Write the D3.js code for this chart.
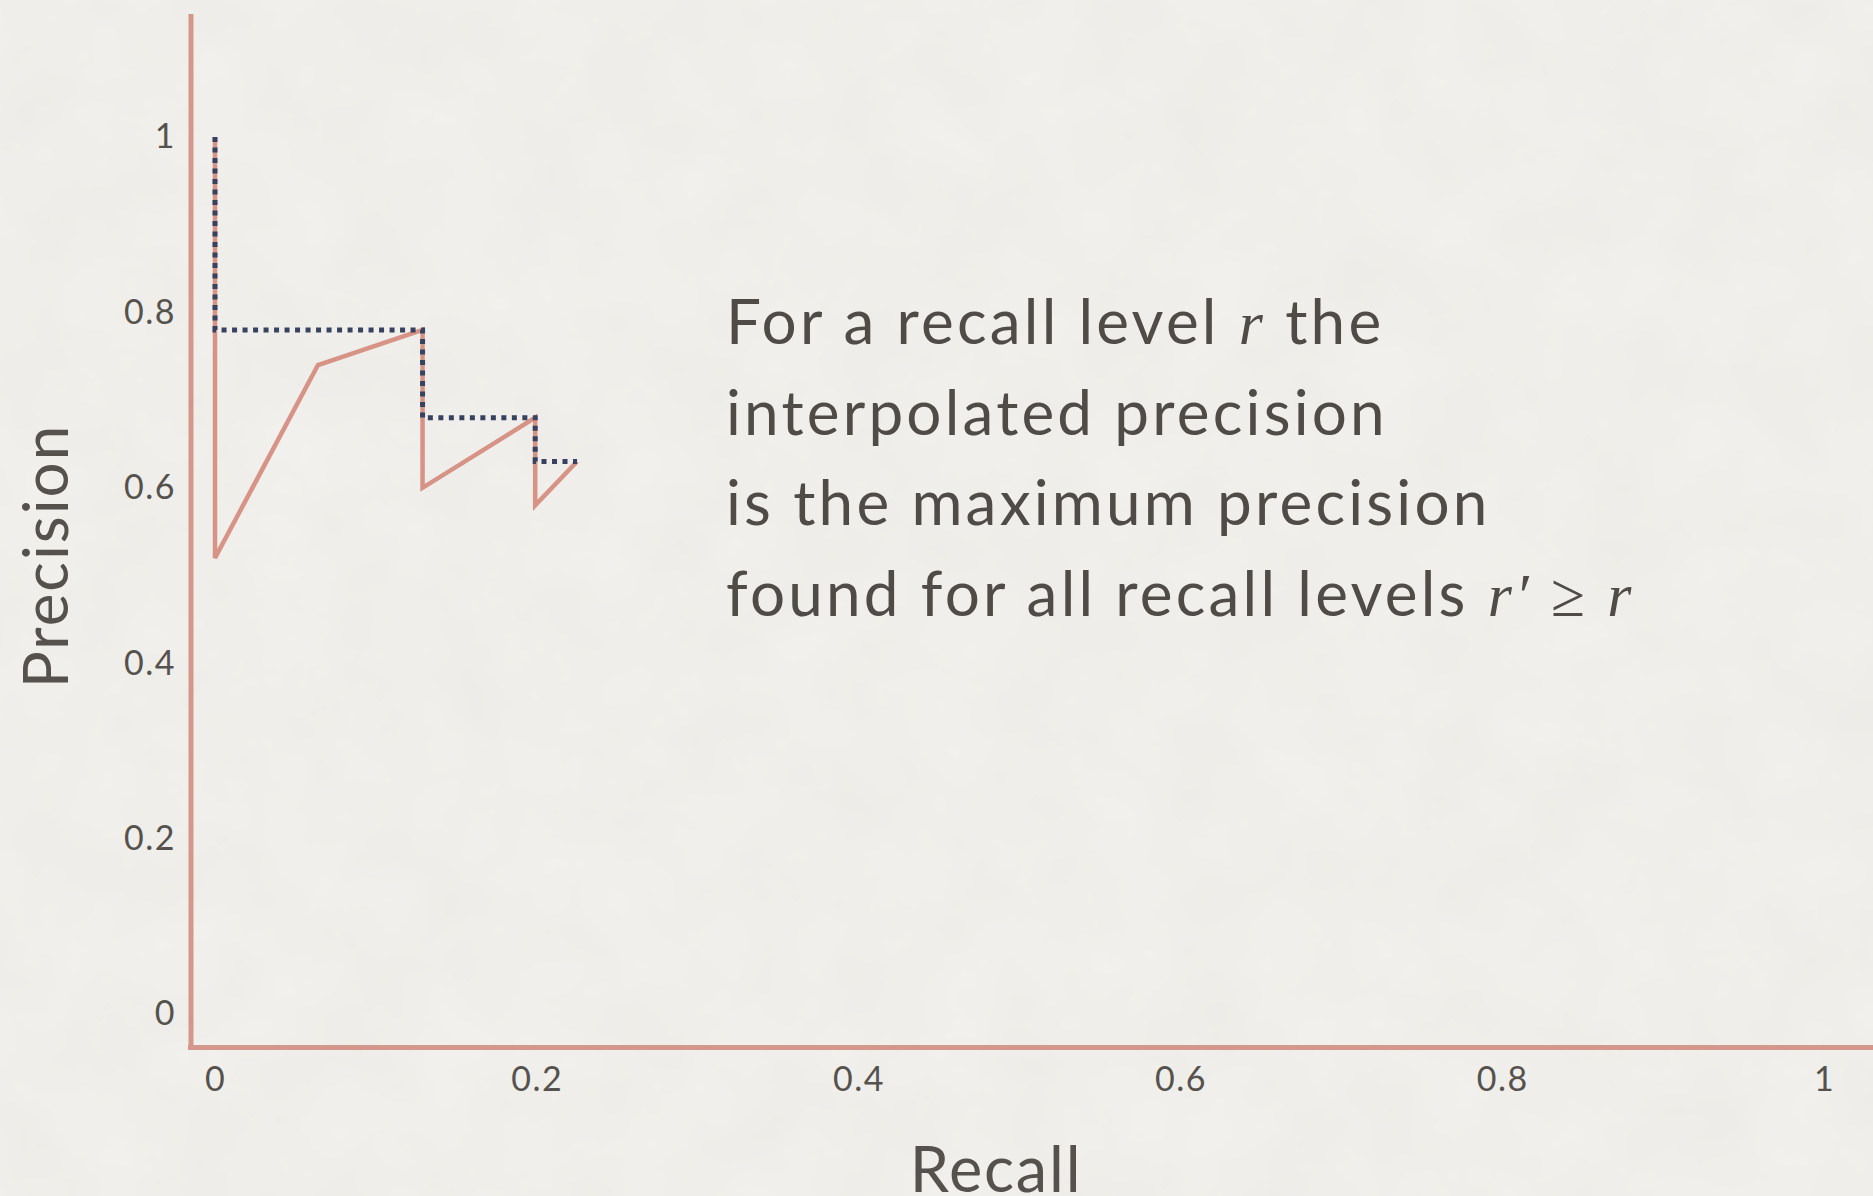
<!DOCTYPE html>
<html>
<head>
<meta charset="utf-8">
<script src="https://cdn.jsdelivr.net/npm/d3@7"></script>
<style>
  html, body { margin: 0; padding: 0; background: #f2f1ed; }
  svg { display: block; }
</style>
</head>
<body>
<div id="pr-chart"></div>
<script>
// data
var recall = [0, 0, 0.064, 0.129, 0.129, 0.199, 0.199, 0.225];
var precision = [1, 0.52, 0.74, 0.78, 0.60, 0.68, 0.58, 0.63];

var interpRecall = [0, 0, 0.129, 0.129, 0.199, 0.199, 0.225];
var interpPrecision = [1, 0.78, 0.78, 0.68, 0.68, 0.63, 0.63];

var xTicks = [0, 0.2, 0.4, 0.6, 0.8, 1];
var yTicks = [0, 0.2, 0.4, 0.6, 0.8, 1];

var noteLines = [
  ["For a recall level ", {i: "r"}, " the"],
  ["interpolated precision"],
  ["is the maximum precision"],
  ["found for all recall levels ", {i: "r\u2032"}, " ", {s: "\u2265"}, " ", {i: "r"}]
];

var W = 1873, H = 1196;

// set the ranges
var x = d3.scaleLinear().domain([0, 1]).range([215, 1824]);
var y = d3.scaleLinear().domain([0, 1]).range([1014, 137]);

var fmt = d3.format("~g");
var xAxis = d3.axisBottom(x).tickValues(xTicks).tickFormat(fmt).tickSize(0).tickPadding(0);
var yAxis = d3.axisLeft(y).tickValues(yTicks).tickFormat(fmt).tickSize(0).tickPadding(0);

var svg = d3.select("#pr-chart")
  .append("svg")
  .attr("width", W)
  .attr("height", H);

// paper texture
var defs = svg.append("defs");
var f = defs.append("filter").attr("id", "paper").attr("x", 0).attr("y", 0).attr("width", "100%").attr("height", "100%");
f.append("feTurbulence").attr("type", "fractalNoise").attr("baseFrequency", 0.012).attr("numOctaves", 4).attr("seed", 3).attr("result", "n");
f.append("feColorMatrix").attr("in", "n").attr("type", "matrix")
  .attr("values", "0 0 0 0 0.55  0 0 0 0 0.54  0 0 0 0 0.50  0 0 0 0.12 0");
svg.append("rect").attr("width", W).attr("height", H).attr("fill", "#f2f1ed");
svg.append("rect").attr("width", W).attr("height", H).attr("filter", "url(#paper)");

// axis lines
svg.append("line")
  .attr("x1", 191).attr("x2", 191).attr("y1", 14).attr("y2", 1050)
  .attr("stroke", "#d4978c").attr("stroke-width", 5);
svg.append("line")
  .attr("x1", 188).attr("x2", W).attr("y1", 1047.5).attr("y2", 1047.5)
  .attr("stroke", "#d4978c").attr("stroke-width", 5);

// tick labels
var gx = svg.append("g")
  .attr("transform", "translate(0,1079)")
  .call(xAxis);
gx.select(".domain").remove();
gx.selectAll("text").attr("font-size", 34).attr("dy", "0.35em").attr("y", 0)
  .attr("letter-spacing", 1.5)
  .attr("fill", "#55524d").attr("font-family", "Lato, sans-serif");

var gy = svg.append("g")
  .attr("transform", "translate(176,0)")
  .call(yAxis);
gy.select(".domain").remove();
gy.selectAll("text").attr("font-size", 34).attr("x", 0)
  .attr("letter-spacing", 1.5)
  .attr("fill", "#55524d").attr("font-family", "Lato, sans-serif");

// axis titles
svg.append("text")
  .attr("x", 996).attr("y", 1192)
  .attr("text-anchor", "middle")
  .attr("font-family", "Lato, sans-serif")
  .attr("font-size", 63)
  .attr("letter-spacing", 1.8)
  .attr("fill", "#55524d")
  .text("Recall");

svg.append("text")
  .attr("transform", "translate(68,556) rotate(-90)")
  .attr("text-anchor", "middle")
  .attr("font-family", "Lato, sans-serif")
  .attr("font-size", 62)
  .attr("letter-spacing", 2)
  .attr("fill", "#55524d")
  .text("Precision");

// the lines
var pts = recall.map(function(r, i) { return [r, precision[i]]; });
var ipts = interpRecall.map(function(r, i) { return [r, interpPrecision[i]]; });

var valueline = d3.line()
  .x(function(d) { return x(d[0]); })
  .y(function(d) { return y(d[1]); });

svg.append("path")
  .attr("d", valueline(pts))
  .attr("fill", "none")
  .attr("stroke", "#d58d81")
  .attr("stroke-opacity", 0.95)
  .attr("stroke-width", 4.5)
  .attr("stroke-linejoin", "miter");

svg.append("path")
  .attr("d", valueline(ipts))
  .attr("fill", "none")
  .attr("stroke", "#36425f")
  .attr("stroke-width", 5)
  .attr("stroke-dasharray", "5,5.5");

// annotation
var note = svg.append("text")
  .attr("font-family", "Lato, sans-serif")
  .attr("font-size", 62)
  .attr("letter-spacing", 3.2)
  .attr("fill", "#4f4c48");

noteLines.forEach(function(line, li) {
  line.forEach(function(part, pi) {
    var t = note.append("tspan");
    if (pi === 0) t.attr("x", 726).attr("y", 344 + li * 90.5);
    if (typeof part === "string") {
      t.text(part);
    } else if (part.i) {
      t.attr("font-family", "'Liberation Serif', serif").attr("font-style", "italic").text(part.i);
    } else {
      t.attr("font-family", "'Liberation Serif', serif").text(part.s);
    }
  });
});
</script>
</body>
</html>
